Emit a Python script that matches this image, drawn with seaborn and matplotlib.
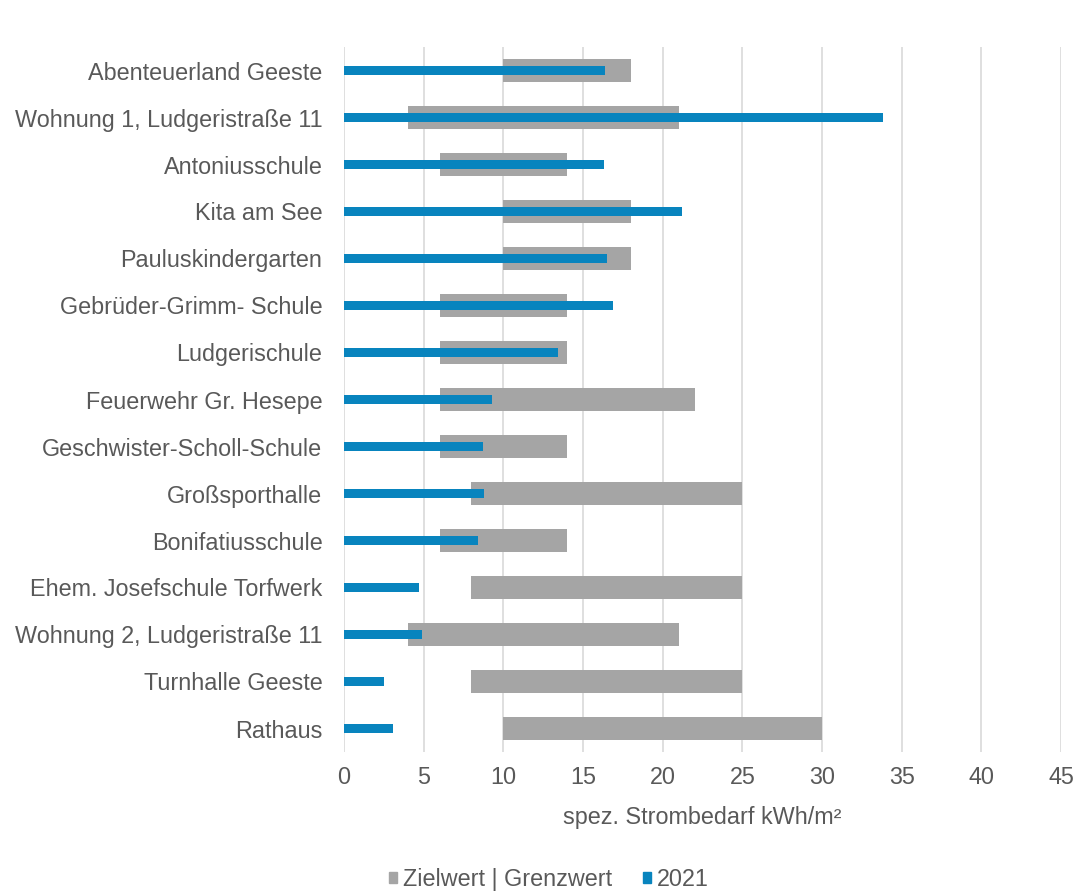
import matplotlib
matplotlib.use("Agg")
import matplotlib.pyplot as plt
import matplotlib.patches as mpatches
import seaborn as sns
import pandas as pd

categories = [
    "Abenteuerland Geeste",
    "Wohnung 1, Ludgeristraße 11",
    "Antoniusschule",
    "Kita am See",
    "Pauluskindergarten",
    "Gebrüder-Grimm- Schule",
    "Ludgerischule",
    "Feuerwehr Gr. Hesepe",
    "Geschwister-Scholl-Schule",
    "Großsporthalle",
    "Bonifatiusschule",
    "Ehem. Josefschule Torfwerk",
    "Wohnung 2, Ludgeristraße 11",
    "Turnhalle Geeste",
    "Rathaus",
]
zielwert = [10, 4, 6, 10, 10, 6, 6, 6, 6, 8, 6, 8, 4, 8, 10]
grenzwert = [18, 21, 14, 18, 18, 14, 14, 22, 14, 25, 14, 25, 21, 25, 30]
wert_2021 = [16.4, 33.8, 16.3, 21.2, 16.5, 16.9, 13.4, 9.3, 8.7, 8.8, 8.4, 4.7, 4.9, 2.5, 3.1]

xticks = [0, 5, 10, 15, 20, 25, 30, 35, 40, 45]
xlabel = "spez. Strombedarf kWh/m²"
legend_labels = ["Zielwert | Grenzwert", "2021"]

GREY = "#A5A5A5"
BLUE = "#0884BE"
TEXT = "#595959"
GRID = "#D9D9D9"
FS = 16.8

df = pd.DataFrame({
    "Gebäude": categories,
    "Ziel": zielwert,
    "Spanne": [g - z for g, z in zip(grenzwert, zielwert)],
    "Wert": wert_2021,
})

sns.set_theme(style="white")
plt.rcParams["font.family"] = ["Liberation Sans", "DejaVu Sans"]

fig = plt.figure(figsize=(10.74, 8.92), dpi=100)
ax = fig.add_axes([344 / 1074, 1 - 752 / 892, (1061 - 344) / 1074, (752 - 47) / 892])

sns.barplot(data=df, y="Gebäude", x="Spanne", order=categories, orient="h",
            color=GREY, width=0.48, left=df["Ziel"].values, ax=ax,
            saturation=1, linewidth=0, zorder=2)
sns.barplot(data=df, y="Gebäude", x="Wert", order=categories, orient="h",
            color=BLUE, width=0.19, ax=ax, saturation=1, linewidth=0, zorder=3)

ax.set_xlim(0, 45)
ax.set_ylim(14.5, -0.5)
ax.set_xticks(xticks)
ax.set_xticklabels([str(t) for t in xticks])
ax.xaxis.grid(True, color=GRID, linewidth=1.2, zorder=0)
ax.set_axisbelow(True)
for s in ax.spines.values():
    s.set_visible(False)
ax.tick_params(axis="both", length=0, labelsize=FS, colors=TEXT)
ax.tick_params(axis="y", pad=15.5)
ax.tick_params(axis="x", pad=10)
ax.set_ylabel("")
ax.set_xlabel(xlabel, fontsize=FS, color=TEXT, labelpad=12)

handles = [mpatches.Patch(color=GREY, label=legend_labels[0]),
           mpatches.Patch(color=BLUE, label=legend_labels[1])]
fig.legend(handles=handles, loc="lower center", bbox_to_anchor=(0.511, -0.022),
           ncol=2, frameon=False, fontsize=FS, labelcolor=TEXT,
           handlelength=0.36, handleheight=0.36, handletextpad=0.25, columnspacing=1.3)

fig.savefig("out.png", dpi=100)
